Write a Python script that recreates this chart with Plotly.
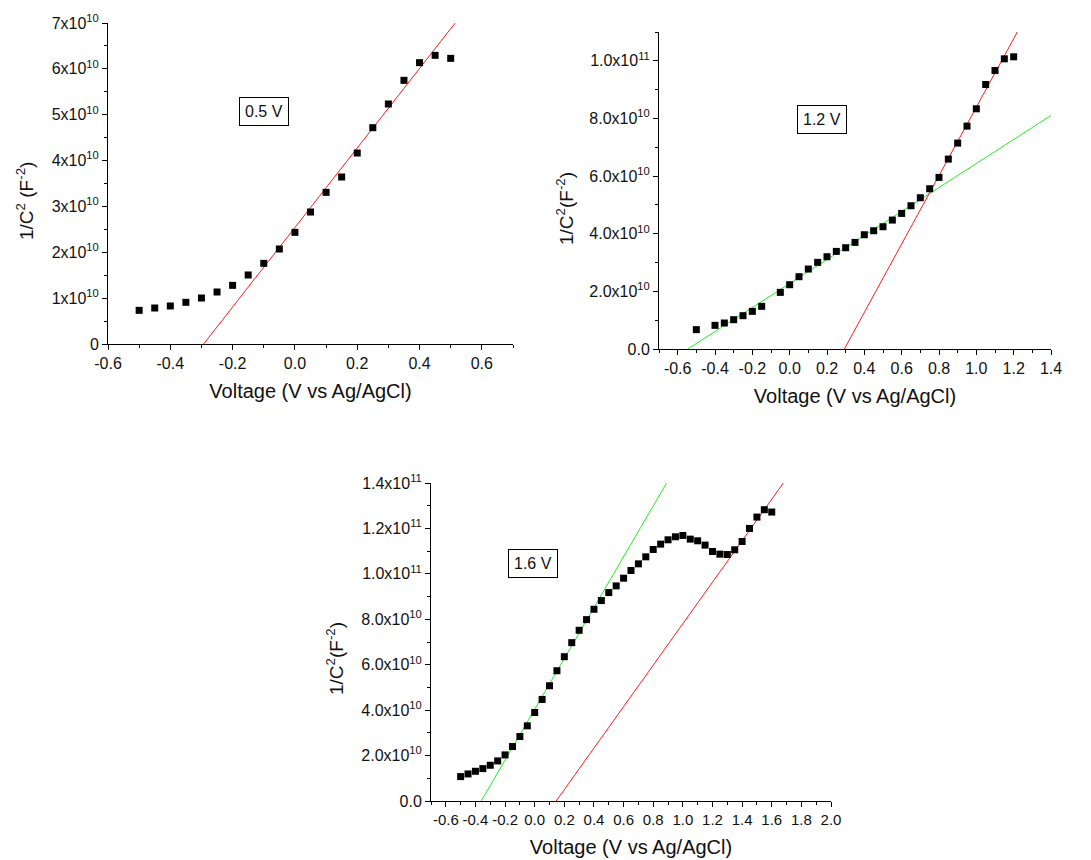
import plotly.graph_objects as go

# ---------------- data ----------------
# Panel 1 (0.5 V)
v1 = [-0.5, -0.45, -0.4, -0.35, -0.3, -0.25, -0.2, -0.15, -0.1, -0.05, 0.0,
      0.05, 0.1, 0.15, 0.2, 0.25, 0.3, 0.35, 0.4, 0.45, 0.5]
c1 = [0.734e10, 0.785e10, 0.829e10, 0.909e10, 1.003e10, 1.134e10, 1.279e10, 1.505e10,
      1.759e10, 2.072e10, 2.435e10, 2.878e10, 3.307e10, 3.642e10, 4.165e10, 4.717e10,
      5.234e10, 5.750e10, 6.135e10, 6.295e10, 6.229e10]

# Panel 2 (1.2 V)
v2 = [-0.5, -0.4, -0.35, -0.3, -0.25, -0.2, -0.15, -0.05, 0.0, 0.05, 0.1, 0.15, 0.2,
      0.25, 0.3, 0.35, 0.4, 0.45, 0.5, 0.55, 0.6, 0.65, 0.7, 0.75, 0.8, 0.85, 0.9,
      0.95, 1.0, 1.05, 1.1, 1.15, 1.2]
c2 = [0.671e10, 0.821e10, 0.902e10, 1.017e10, 1.156e10, 1.306e10, 1.480e10, 1.965e10,
      2.231e10, 2.509e10, 2.775e10, 3.006e10, 3.202e10, 3.387e10, 3.514e10, 3.699e10,
      3.965e10, 4.104e10, 4.243e10, 4.474e10, 4.705e10, 4.971e10, 5.249e10, 5.561e10,
      5.954e10, 6.590e10, 7.145e10, 7.734e10, 8.335e10, 9.179e10, 9.665e10, 10.069e10,
      10.139e10]

# Panel 3 (1.6 V)
v3 = [-0.5, -0.45, -0.4, -0.35, -0.3, -0.25, -0.2, -0.15, -0.1, -0.05, 0.0, 0.05,
      0.1, 0.15, 0.2, 0.25, 0.3, 0.35, 0.4, 0.45, 0.5, 0.55, 0.6, 0.65, 0.7, 0.75,
      0.8, 0.85, 0.9, 0.95, 1.0, 1.05, 1.1, 1.15, 1.2, 1.25, 1.3, 1.35, 1.4, 1.45,
      1.5, 1.55, 1.6]
c3 = [1.074e10, 1.191e10, 1.309e10, 1.426e10, 1.574e10, 1.765e10, 2.029e10, 2.397e10,
      2.838e10, 3.309e10, 3.897e10, 4.471e10, 5.074e10, 5.735e10, 6.353e10, 6.971e10,
      7.515e10, 7.985e10, 8.441e10, 8.824e10, 9.176e10, 9.471e10, 9.809e10, 10.147e10,
      10.441e10, 10.750e10, 11.074e10, 11.309e10, 11.500e10, 11.632e10, 11.691e10,
      11.529e10, 11.456e10, 11.265e10, 10.985e10, 10.868e10, 10.853e10, 11.059e10,
      11.426e10, 12.000e10, 12.500e10, 12.824e10, 12.721e10]

# Linear fits: x-intercept (flat-band potential), slope, x-extent
fit1_red = dict(x0=-0.293, slope=8.67e10, x_end=0.514)
fit2_green = dict(x0=-0.546, slope=4.164e10, x_end=1.4)
fit2_red = dict(x0=0.293, slope=1.187e11, x_end=1.221)
fit3_green = dict(x0=-0.361, slope=1.119e11, x_end=0.890)
fit3_red = dict(x0=0.145, slope=9.13e10, x_end=1.678)

# Tick labels
x1_ticks = [-0.6, -0.4, -0.2, 0.0, 0.2, 0.4, 0.6]
x1_text = ["-0.6", "-0.4", "-0.2", "0.0", "0.2", "0.4", "0.6"]
y1_ticks = [0, 1e10, 2e10, 3e10, 4e10, 5e10, 6e10, 7e10]
y1_text = ["0"] + [f"{i}x10<sup>10</sup>" for i in range(1, 8)]

x2_ticks = [-0.6, -0.4, -0.2, 0.0, 0.2, 0.4, 0.6, 0.8, 1.0, 1.2, 1.4]
x2_text = ["-0.6", "-0.4", "-0.2", "0.0", "0.2", "0.4", "0.6", "0.8", "1.0", "1.2", "1.4"]
y2_ticks = [0, 2e10, 4e10, 6e10, 8e10, 1e11]
y2_text = ["0.0", "2.0x10<sup>10</sup>", "4.0x10<sup>10</sup>", "6.0x10<sup>10</sup>",
           "8.0x10<sup>10</sup>", "1.0x10<sup>11</sup>"]

x3_ticks = [-0.6, -0.4, -0.2, 0.0, 0.2, 0.4, 0.6, 0.8, 1.0, 1.2, 1.4, 1.6, 1.8, 2.0]
x3_text = ["-0.6", "-0.4", "-0.2", "0.0", "0.2", "0.4", "0.6", "0.8", "1.0", "1.2",
           "1.4", "1.6", "1.8", "2.0"]
y3_ticks = [0, 2e10, 4e10, 6e10, 8e10, 1e11, 1.2e11, 1.4e11]
y3_text = ["0.0", "2.0x10<sup>10</sup>", "4.0x10<sup>10</sup>", "6.0x10<sup>10</sup>",
           "8.0x10<sup>10</sup>", "1.0x10<sup>11</sup>", "1.2x10<sup>11</sup>",
           "1.4x10<sup>11</sup>"]

labels = ["0.5 V", "1.2 V", "1.6 V"]
x_title = "Voltage (V vs Ag/AgCl)"
y_titles = ["1/C<sup>2</sup> (F<sup>-2</sup>)", "1/C<sup>2</sup>(F<sup>-2</sup>)",
            "1/C<sup>2</sup>(F<sup>-2</sup>)"]

# ---------------- figure ----------------
FONT = "Liberation Sans, Arial, sans-serif"
RED = "#ff1a1a"
GREEN = "#22ee22"

fig = go.Figure()


def add_points(x, y, xa, ya):
    fig.add_trace(go.Scatter(x=x, y=y, mode="markers", xaxis=xa, yaxis=ya,
                             marker=dict(symbol="square", size=7, color="black",
                                         line=dict(width=0)),
                             showlegend=False))


def add_fit(fit, color, xa, ya):
    xs = [fit["x0"], fit["x_end"]]
    ys = [fit["slope"] * (x - fit["x0"]) for x in xs]
    fig.add_trace(go.Scatter(x=xs, y=ys, mode="lines", xaxis=xa, yaxis=ya,
                             line=dict(color=color, width=1), showlegend=False))


add_fit(fit1_red, RED, "x", "y")
add_points(v1, c1, "x", "y")
add_fit(fit2_green, GREEN, "x2", "y2")
add_fit(fit2_red, RED, "x2", "y2")
add_points(v2, c2, "x2", "y2")
add_fit(fit3_green, GREEN, "x3", "y3")
add_fit(fit3_red, RED, "x3", "y3")
add_points(v3, c3, "x3", "y3")

W, H = 1091, 860
TICK_SIZE = 16


def axis_common(fs=TICK_SIZE):
    return dict(showline=True, linecolor="black", linewidth=1, showgrid=False,
                zeroline=False, ticks="outside", ticklen=5, tickwidth=1,
                tickcolor="black", tickmode="array", automargin=False,
                tickfont=dict(family=FONT, size=fs, color="#111"))


def xaxis(rng, tv, tt, dom, anchor, fs=TICK_SIZE):
    d = axis_common(fs)
    d.update(range=rng, tickvals=tv, ticktext=tt, domain=dom, anchor=anchor,
             tickangle=0,
             minor=dict(ticks="outside", ticklen=3, tickcolor="black", dtick=0.1, tick0=0),
             title=dict(text=x_title, font=dict(family=FONT, size=20, color="#111"),
                        standoff=12))
    return d


def yaxis(rng, tv, tt, dom, anchor, mdt):
    d = axis_common()
    d.update(range=rng, tickvals=tv, ticktext=tt, domain=dom, anchor=anchor,
             minor=dict(ticks="outside", ticklen=3, tickcolor="black", dtick=mdt, tick0=0))
    return d


# plot-area pixel boxes (left, right, top, bottom)
p1 = (108, 513, 23, 344)
p2 = (659, 1051, 32, 349)
p3 = (431, 831, 483, 801)


def dom(p):
    return [p[0] / W, p[1] / W], [1 - p[3] / H, 1 - p[2] / H]


d1x, d1y = dom(p1)
d2x, d2y = dom(p2)
d3x, d3y = dom(p3)

fig.update_layout(
    width=W, height=H,
    margin=dict(l=0, r=0, t=0, b=0, autoexpand=False),
    paper_bgcolor="white", plot_bgcolor="white",
    font=dict(family=FONT, color="#111"),
    xaxis=xaxis([-0.6, 0.7], x1_ticks, x1_text, d1x, "y"),
    yaxis=yaxis([0, 7e10], y1_ticks, y1_text, d1y, "x", 0.5e10),
    xaxis2=xaxis([-0.7, 1.4], x2_ticks, x2_text, d2x, "y2"),
    yaxis2=yaxis([0, 1.1e11], y2_ticks, y2_text, d2y, "x2", 1e10),
    xaxis3=xaxis([-0.7, 2.0], x3_ticks, x3_text, d3x, "y3", fs=15),
    yaxis3=yaxis([0, 1.4e11], y3_ticks, y3_text, d3y, "x3", 1e10),
)

# boxed labels
box_pos = [("x", "y", 0.384, 0.724), ("x2", "y2", 0.417, 0.724), ("x3", "y3", 0.254, 0.746)]
for (xa, ya, fx, fy), lab in zip(box_pos, labels):
    fig.add_annotation(text=lab, xref=f"{xa} domain", yref=f"{ya} domain", x=fx, y=fy,
                       xanchor="center", yanchor="middle",
                       showarrow=False, font=dict(family=FONT, size=16, color="#111"),
                       bordercolor="black", borderwidth=1, borderpad=5, bgcolor="white")

# y titles (rotated)
ytitle_pos = [(25, 201), (565, 209), (335, 659)]
for (px, py), t in zip(ytitle_pos, y_titles):
    fig.add_annotation(text=t, xref="paper", yref="paper", x=px / W, y=1 - py / H,
                       xanchor="center", yanchor="middle",
                       showarrow=False, textangle=-90,
                       font=dict(family=FONT, size=19, color="#111"))

fig.write_html("out.html")
